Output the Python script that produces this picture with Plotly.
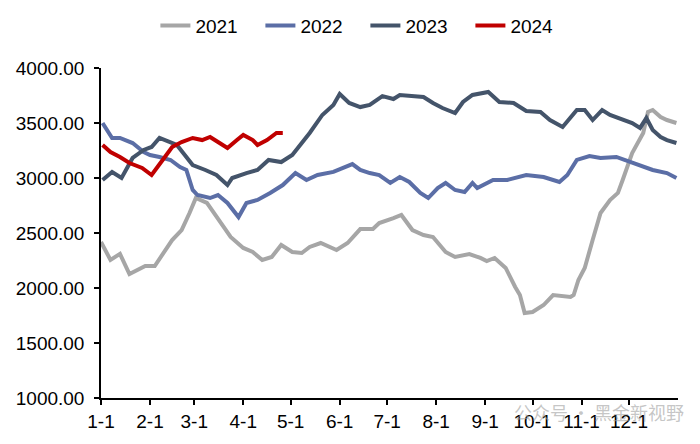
import pandas as pd
import plotly.graph_objects as go

# ---- data (day-of-year offset from Jan 1, value) ----
days_2021 = [0, 6, 12, 18, 28, 34, 45, 51, 56, 60, 67, 82, 90, 96, 102, 108, 114, 121, 127, 132,
             139, 149, 156, 164, 172, 176, 185, 190, 197, 204, 210, 218, 224, 233, 240, 244, 249,
             256, 262, 265, 268, 273, 280, 286, 297, 299, 302, 306, 311, 316, 322, 327, 330, 336,
             343, 346, 349, 354, 358, 364]
vals_2021 = [2418, 2255, 2310, 2127, 2200, 2200, 2436, 2527, 2682, 2818, 2773, 2464, 2364, 2327,
             2255, 2282, 2391, 2327, 2318, 2373, 2409, 2345, 2409, 2536, 2536, 2591, 2636, 2664,
             2527, 2482, 2464, 2327, 2282, 2309, 2273, 2245, 2273, 2182, 2009, 1936, 1773, 1782,
             1845, 1936, 1918, 1936, 2073, 2182, 2436, 2682, 2800, 2864, 2982, 3227, 3409, 3600,
             3618, 3555, 3527, 3500]

days_2022 = [1, 7, 12, 20, 27, 31, 37, 44, 50, 54, 58, 61, 69, 74, 80, 87, 92, 99, 107, 115,
             123, 130, 137, 147, 159, 164, 170, 176, 183, 189, 195, 202, 207, 213, 218, 224, 230,
             235, 238, 248, 257, 269, 280, 290, 295, 301, 309, 316, 326, 335, 343, 349, 358, 364]
vals_2022 = [3500, 3364, 3364, 3318, 3236, 3209, 3191, 3164, 3100, 3073, 2891, 2845, 2818, 2845,
             2773, 2645, 2773, 2800, 2864, 2936, 3045, 2982, 3027, 3055, 3127, 3073, 3045, 3027,
             2955, 3009, 2964, 2864, 2818, 2909, 2955, 2891, 2873, 2955, 2909, 2982, 2982, 3027,
             3009, 2964, 3027, 3164, 3200, 3182, 3191, 3145, 3100, 3073, 3045, 3000]

days_2023 = [1, 7, 13, 20, 27, 32, 37, 44, 48, 53, 58, 66, 73, 80, 83, 92, 99, 106, 114, 121,
             126, 132, 140, 147, 151, 157, 164, 170, 178, 185, 189, 197, 204, 210, 216, 224, 229,
             235, 245, 252, 261, 269, 278, 284, 292, 301, 306, 311, 317, 322, 330, 336, 341, 345,
             349, 354, 358, 364]
vals_2023 = [2982, 3055, 3000, 3182, 3255, 3282, 3364, 3327, 3300, 3209, 3118, 3073, 3027, 2936,
             3000, 3045, 3073, 3164, 3145, 3209, 3300, 3409, 3573, 3664, 3764, 3682, 3645, 3664,
             3745, 3718, 3755, 3745, 3736, 3682, 3636, 3591, 3691, 3755, 3782, 3691, 3682, 3609,
             3600, 3527, 3464, 3618, 3618, 3527, 3618, 3573, 3527, 3500, 3455, 3545, 3436, 3373,
             3345, 3318]

days_2024 = [1, 6, 12, 18, 26, 32, 39, 45, 51, 58, 64, 69, 74, 80, 86, 90, 96, 99, 105, 111, 115]
vals_2024 = [3300, 3236, 3191, 3136, 3091, 3027, 3164, 3282, 3327, 3364, 3345, 3373, 3327, 3273,
             3345, 3391, 3345, 3300, 3345, 3409, 3409]

month_labels = ["1-1", "2-1", "3-1", "4-1", "5-1", "6-1", "7-1", "8-1", "9-1", "10-1", "11-1", "12-1"]

series_names = ["2021", "2022", "2023", "2024"]
series_colors = ["#a6a6a6", "#5b6ea6", "#44546a", "#c00000"]

base = pd.Timestamp("2021-01-01")


def to_dates(days):
    return [base + pd.Timedelta(days=d) for d in days]


series = [(days_2021, vals_2021), (days_2022, vals_2022), (days_2023, vals_2023), (days_2024, vals_2024)]

fig = go.Figure()
for (d, v), name, color in zip(series, series_names, series_colors):
    fig.add_trace(go.Scatter(x=to_dates(d), y=v, mode="lines", name=name,
                             line=dict(color=color, width=4)))

tick_vals = [pd.Timestamp(2021, m, 1) for m in range(1, 13)]
font_family = "Arial, Liberation Sans, sans-serif"

fig.update_layout(
    width=700, height=444,
    margin=dict(l=101, r=22, t=68, b=46),
    paper_bgcolor="white", plot_bgcolor="white",
    font=dict(family=font_family, size=19, color="black"),
    legend=dict(orientation="h", xref="container", yref="container",
                x=0.522, xanchor="center", y=0.985, yanchor="top",
                font=dict(size=19), entrywidth=60, entrywidthmode="pixels",
                bgcolor="rgba(0,0,0,0)"),
    showlegend=True,
)
fig.update_xaxes(
    type="date", range=[base, pd.Timestamp("2022-01-01")],
    tickvals=tick_vals, ticktext=month_labels,
    showline=True, linecolor="black", linewidth=1.5,
    ticks="outside", ticklen=5, tickcolor="black", tickwidth=1.5,
    showgrid=False, zeroline=False, tickfont=dict(size=19),
)
fig.update_yaxes(
    range=[1000, 4000], dtick=500, tick0=1000, tickformat=".2f",
    showline=True, linecolor="black", linewidth=1.5,
    ticks="outside", ticklen=5, tickcolor="black", tickwidth=1.5,
    showgrid=False, zeroline=False, tickfont=dict(size=19),
    ticklabelstandoff=6,
)

fig.add_annotation(
    text="公众号 · 黑金新视野", xref="paper", yref="paper",
    x=(686 - 101) / 577, y=(398 - 412) / 330, xanchor="right", yanchor="middle",
    showarrow=False, font=dict(family="Noto Sans CJK SC", size=18, color="rgba(160,160,160,0.6)"),
)

fig.write_html("out.html")
